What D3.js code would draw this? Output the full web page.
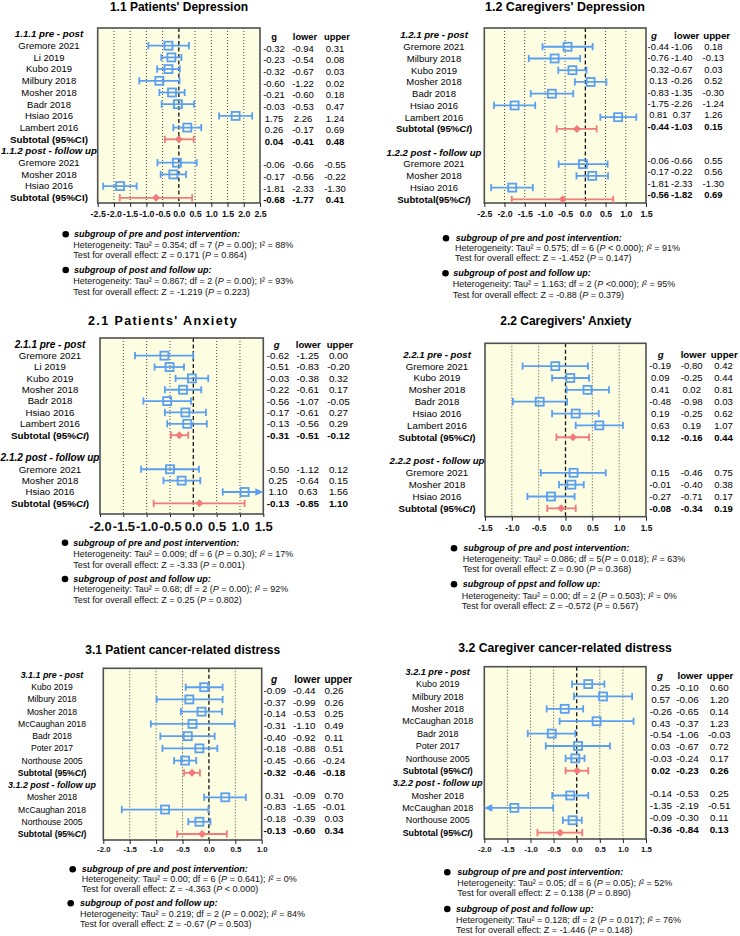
<!DOCTYPE html>
<html>
<head>
<meta charset="utf-8">
<script src="https://cdn.jsdelivr.net/npm/d3@7"></script>
<style>
body { margin: 0; background: #fff; }
svg { font-family: "Liberation Sans", Arial, Helvetica, sans-serif; }
</style>
</head>
<body>
<svg id="chart" width="740" height="936"></svg>
<script>
// ---------- data ----------
// plotted estimates are [g, lower, upper]; table text is what is printed next to the plot

// 1.1 Patients' Depression
const names11a = ["Gremore 2021", "Li 2019", "Kubo 2019", "Milbury 2018", "Mosher 2018", "Badr 2018", "Hsiao 2016", "Lambert 2016"];
const names11b = ["Gremore 2021", "Mosher 2018", "Hsiao 2016"];
const est11a = [[-0.32, -0.94, 0.31], [-0.23, -0.54, 0.08], [-0.32, -0.67, 0.03], [-0.60, -1.22, 0.02], [-0.21, -0.60, 0.18], [-0.03, -0.53, 0.47], [1.75, 1.24, 2.26], [0.26, -0.17, 0.69]];
const est11b = [[-0.06, -0.66, 0.55], [-0.17, -0.56, 0.22], [-1.81, -2.33, -1.30]];
const sub11 = [[0.00, -0.43, 0.46], [-0.70, -1.82, 0.41]];
const txt11a = [["-0.32", "-0.94", "0.31"], ["-0.23", "-0.54", "0.08"], ["-0.32", "-0.67", "0.03"], ["-0.60", "-1.22", "0.02"], ["-0.21", "-0.60", "0.18"], ["-0.03", "-0.53", "0.47"], ["1.75", "2.26", "1.24"], ["0.26", "-0.17", "0.69"]];
const txt11b = [["-0.06", "-0.66", "-0.55"], ["-0.17", "-0.56", "-0.22"], ["-1.81", "-2.33", "-1.30"]];
const txtSub11 = [["0.04", "-0.41", "0.48"], ["-0.68", "-1.77", "0.41"]];
const heads11 = ["1.1.1 pre - post", "1.1.2 post - follow up"];
const subLbl11 = ["Subtotal (95%CI)", "Subtotal (95%CI)"];
const cols11 = ["g", "lower", "upper"];
const ticks11 = [-2.5, -2, -1.5, -1, -0.5, 0, 0.5, 1, 1.5, 2, 2.5];
const notes11 = [
    ["subgroup of pre and post intervention:", "Heterogeneity: Tau² = 0.354; df = 7 (*P* = 0.00); I² = 88%", "Test for overall effect: Z = 0.171 (*P* = 0.864)"],
    ["subgroup of post and follow up:", "Heterogeneity: Tau² = 0.867; df = 2 (*P* = 0.00); I² = 93%", "Test for overall effect: Z = -1.219 (*P* = 0.223)"]
];

// 1.2 Caregivers' Depression
const names12a = ["Gremore 2021", "Milbury 2018", "Kubo 2019", "Mosher 2018", "Badr 2018", "Hsiao 2016", "Lambert 2016"];
const names12b = ["Gremore 2021", "Mosher 2018", "Hsiao 2016"];
const est12a = [[-0.44, -1.06, 0.18], [-0.76, -1.40, -0.13], [-0.32, -0.67, 0.03], [0.13, -0.26, 0.52], [-0.83, -1.35, -0.30], [-1.75, -2.26, -1.24], [0.81, 0.37, 1.26]];
const est12b = [[-0.06, -0.66, 0.55], [0.17, -0.22, 0.56], [-1.81, -2.33, -1.30]];
const sub12 = [[-0.21, -0.71, 0.28], [-0.56, -1.82, 0.69]];
const txt12a = [["-0.44", "-1.06", "0.18"], ["-0.76", "-1.40", "-0.13"], ["-0.32", "-0.67", "0.03"], ["0.13", "-0.26", "0.52"], ["-0.83", "-1.35", "-0.30"], ["-1.75", "-2.26", "-1.24"], ["0.81", "0.37", "1.26"]];
const txt12b = [["-0.06", "-0.66", "0.55"], ["-0.17", "-0.22", "0.56"], ["-1.81", "-2.33", "-1.30"]];
const txtSub12 = [["-0.44", "-1.03", "0.15"], ["-0.56", "-1.82", "0.69"]];
const heads12 = ["1.2.1 pre - post", "1.2.2 post - follow up"];
const subLbl12 = ["Subtotal (95%*CI*)", "Subtotal(95%*CI*)"];
const cols12 = ["*g*", "lower", "upper"];
const ticks12 = [-2.5, -2, -1.5, -1, -0.5, 0, 0.5, 1, 1.5];
const notes12 = [
    ["subgroup of pre and post intervention:", "Heterogeneity: Tau² = 0.575; df = 6 (*P* < 0.000); *I*² = 91%", "Test for overall effect: Z = -1.452 (*P* = 0.147)"],
    ["subgroup of post and follow up:", "Heterogeneity: Tau² = 1.163; df = 2 (*P* <0.000); *I*² = 95%", "Test for overall effect: Z = -0.88 (*P* = 0.379)"]
];

// 2.1 Patients' Anxiety
const names21a = ["Gremore 2021", "Li 2019", "Kubo 2019", "Mosher 2018", "Badr 2018", "Hsiao 2016", "Lambert 2016"];
const names21b = ["Gremore 2021", "Mosher 2018", "Hsiao 2016"];
const est21a = [[-0.62, -1.25, 0.00], [-0.51, -0.83, -0.20], [-0.03, -0.38, 0.32], [-0.22, -0.61, 0.17], [-0.56, -1.07, -0.05], [-0.17, -0.61, 0.27], [-0.13, -0.56, 0.29]];
const est21b = [[-0.50, -1.12, 0.12], [-0.25, -0.64, 0.15], [1.10, 0.63, 1.56]];
const sub21 = [[-0.30, -0.48, -0.11], [0.13, -0.85, 1.10]];
const txt21a = [["-0.62", "-1.25", "0.00"], ["-0.51", "-0.83", "-0.20"], ["-0.03", "-0.38", "0.32"], ["-0.22", "-0.61", "0.17"], ["-0.56", "-1.07", "-0.05"], ["-0.17", "-0.61", "0.27"], ["-0.13", "-0.56", "0.29"]];
const txt21b = [["-0.50", "-1.12", "0.12"], ["0.25", "-0.64", "0.15"], ["1.10", "0.63", "1.56"]];
const txtSub21 = [["-0.31", "-0.51", "-0.12"], ["-0.13", "-0.85", "1.10"]];
const heads21 = ["2.1.1 pre - post", "2.1.2 post - follow up"];
const subLbl21 = ["Subtotal (95%*CI*)", "Subtotal (95%*CI*)"];
const cols21 = ["*g*", "lower", "upper"];
const ticks21 = [-2, -1.5, -1, -0.5, 0, 0.5, 1, 1.5];
const notes21 = [
    ["subgroup of pre and post intervention:", "Heterogeneity: Tau² = 0.009; df = 6 (*P* = 0.30); *I*² = 17%", "Test for overall effect: Z = -3.33 (*P* = 0.001)"],
    ["subgroup of post and follow up:", "Heterogeneity: Tau² = 0.68; df = 2 (*P* = 0.00); *I*² = 92%", "Test for overall effect: Z = 0.25 (*P* = 0.802)"]
];

// 2.2 Caregivers' Anxiety
const names22a = ["Gremore 2021", "Kubo 2019", "Mosher 2018", "Badr 2018", "Hsiao 2016", "Lambert 2016"];
const names22b = ["Gremore 2021", "Mosher 2018", "Hsiao 2016"];
const est22a = [[-0.19, -0.80, 0.42], [0.09, -0.25, 0.44], [0.41, 0.02, 0.81], [-0.48, -0.98, 0.03], [0.19, -0.25, 0.62], [0.63, 0.19, 1.07]];
const est22b = [[0.15, -0.46, 0.75], [0.11, -0.12, 0.34], [-0.27, -0.71, 0.17]];
const sub22 = [[0.14, -0.17, 0.44], [-0.08, -0.34, 0.19]];
const txt22a = [["-0.19", "-0.80", "0.42"], ["0.09", "-0.25", "0.44"], ["0.41", "0.02", "0.81"], ["-0.48", "-0.98", "0.03"], ["0.19", "-0.25", "0.62"], ["0.63", "0.19", "1.07"]];
const txt22b = [["0.15", "-0.46", "0.75"], ["-0.01", "-0.40", "0.38"], ["-0.27", "-0.71", "0.17"]];
const txtSub22 = [["0.12", "-0.16", "0.44"], ["-0.08", "-0.34", "0.19"]];
const heads22 = ["2.2.1 pre - post", "2.2.2 post - follow up"];
const subLbl22 = ["Subtotal (95%*CI*)", "Subtotal (95%*CI*)"];
const cols22 = ["*g*", "lower", "upper"];
const ticks22 = [-1.5, -1, -0.5, 0, 0.5, 1, 1.5];
const notes22 = [
    ["subgroup of pre and post intervention:", "Heterogeneity: Tau² = 0.086; df = 5(*P* = 0.018); *I*² = 63%", "Test for overall effect: Z = 0.90 (*P* = 0.368)"],
    ["subgroup of ppst and follow up:", "Heterogeneity: Tau² = 0.00; df = 2 (*P* = 0.503); *I*² = 0%", "Test for overall effect: Z = -0.572 (*P* = 0.567)"]
];

// 3.1 Patient cancer-related distress
const names31a = ["Kubo 2019", "Milbury 2018", "Mosher 2018", "McCaughan 2018", "Badr 2018", "Poter 2017", "Northouse 2005"];
const names31b = ["Mosher 2018", "McCaughan 2018", "Northouse 2005"];
const est31a = [[-0.09, -0.44, 0.26], [-0.37, -0.99, 0.26], [-0.14, -0.53, 0.25], [-0.31, -1.10, 0.49], [-0.40, -0.92, 0.11], [-0.18, -0.88, 0.16], [-0.45, -0.66, -0.24]];
const est31b = [[0.31, -0.09, 0.70], [-0.83, -1.65, -0.01], [-0.18, -0.39, 0.03]];
const sub31 = [[-0.32, -0.47, -0.17], [-0.13, -0.60, 0.34]];
const txt31a = [["-0.09", "-0.44", "0.26"], ["-0.37", "-0.99", "0.26"], ["-0.14", "-0.53", "0.25"], ["-0.31", "-1.10", "0.49"], ["-0.40", "-0.92", "0.11"], ["-0.18", "-0.88", "0.51"], ["-0.45", "-0.66", "-0.24"]];
const txt31b = [["0.31", "-0.09", "0.70"], ["-0.83", "-1.65", "-0.01"], ["-0.18", "-0.39", "0.03"]];
const txtSub31 = [["-0.32", "-0.46", "-0.18"], ["-0.13", "-0.60", "0.34"]];
const heads31 = ["3.1.1 pre - post", "3.1.2 post - follow up"];
const subLbl31 = ["Subtotal (95%*CI*)", "Subtotal (95%*CI*)"];
const cols31 = ["*g*", "lower", "upper"];
const ticks31 = [-2, -1.5, -1, -0.5, 0, 0.5, 1];
const notes31 = [
    ["subgroup of pre and post intervention:", "Heterogeneity: Tau² = 0.00; df = 6 (*P* = 0.641); *I*² = 0%", "Test for overall effect: Z = -4.363 (*P* < 0.000)"],
    ["subgroup of post and follow up:", "Heterogeneity: Tau² = 0.219; df = 2 (*P* = 0.002); *I*² = 84%", "Test for overall effect: Z = -0.67 (*P* = 0.503)"]
];

// 3.2 Caregiver cancer-related distress
const names32a = ["Kubo 2019", "Milbury 2018", "Mosher 2018", "McCaughan 2018", "Badr 2018", "Poter 2017", "Northouse 2005"];
const names32b = ["Mosher 2018", "McCaughan 2018", "Northouse 2005"];
const est32a = [[0.25, -0.10, 0.60], [0.57, -0.06, 1.20], [-0.26, -0.65, 0.14], [0.43, -0.37, 1.23], [-0.54, -1.06, -0.03], [0.03, -0.67, 0.72], [-0.03, -0.24, 0.17]];
const est32b = [[-0.14, -0.53, 0.25], [-1.35, -2.19, -0.51], [-0.09, -0.30, 0.11]];
const sub32 = [[0.01, -0.24, 0.25], [-0.36, -0.85, 0.12]];
const txt32a = [["0.25", "-0.10", "0.60"], ["0.57", "-0.06", "1.20"], ["-0.26", "-0.65", "0.14"], ["0.43", "-0.37", "1.23"], ["-0.54", "-1.06", "-0.03"], ["0.03", "-0.67", "0.72"], ["-0.03", "-0.24", "0.17"]];
const txt32b = [["-0.14", "-0.53", "0.25"], ["-1.35", "-2.19", "-0.51"], ["-0.09", "-0.30", "0.11"]];
const txtSub32 = [["0.02", "-0.23", "0.26"], ["-0.36", "-0.84", "0.13"]];
const heads32 = ["3.2.1 pre - post", "3.2.2 post - follow up"];
const subLbl32 = ["Subtotal (95%*CI*)", "Subtotal (95%*CI*)"];
const cols32 = ["*g*", "lower", "upper"];
const ticks32 = [-2, -1.5, -1, -0.5, 0, 0.5, 1, 1.5];
const notes32 = [
    ["subgroup of pre and post intervention:", "Heterogeneity: Tau² = 0.05; df = 6 (*P* = 0.05); *I*² = 52%", "Test for overall effect: Z = 0.138 (*P* = 0.890)"],
    ["subgroup of post and follow up:", "Heterogeneity: Tau² = 0.128; df = 2 (*P* = 0.017); *I*² = 76%", "Test for overall effect: Z = -1.446 (*P* = 0.148)"]
];

// ---------- layout ----------
var blue = "#5a9ff0",
    red = "#f27a7a",
    plotFill = "#fdfde2",
    frame = "#505050";

var panels = [
    {title: "1.1 Patients' Depression", titleX: 179, titleY: 7, titleSize: 12, titleSpacing: 0,
     box: [97.7, 260, 28, 203], domain: [-2.5, 2.5], ticks: ticks11, tickFont: 8.8, tickLabelY: 214, tickLen: 4,
     rowTop: 34, rowStep: 11.7, gap: false, labelX: 49, valTop: 36.6, valStep: 11.67,
     colHeadX: [274, 305, 337], colValX: [274, 303, 335],
     fs: {label: 9.5, head: 9.7, sub: 9.8, val: 9.5, col: 9.3},
     names: [names11a, names11b], est: [est11a, est11b], sub: sub11, txt: [txt11a, txt11b], txtSub: txtSub11,
     heads: heads11, subLbl: subLbl11, cols: cols11, notes: notes11,
     notePos: [{bx: 65.7, hx: 74, lx: 73.3, y: [234.3, 245, 255]}, {bx: 65.7, hx: 74, lx: 73.3, y: [270, 281, 292]}]},
    {title: "1.2 Caregivers' Depression", titleX: 565, titleY: 7, titleSize: 12.5, titleSpacing: 0,
     box: [484.3, 646, 28, 203], domain: [-2.5, 1.5], ticks: ticks12, tickFont: 8.8, tickLabelY: 214, tickLen: 4,
     rowTop: 35, rowStep: 11.74, gap: true, labelX: 434, valTop: 35.3, valStep: 11.4,
     colHeadX: [654, 686.7, 716.7], colValX: [658.3, 681.8, 713.3],
     fs: {label: 9.5, head: 9.6, sub: 9.6, val: 9.4, col: 9.7},
     names: [names12a, names12b], est: [est12a, est12b], sub: sub12, txt: [txt12a, txt12b], txtSub: txtSub12,
     heads: heads12, subLbl: subLbl12, cols: cols12, notes: notes12,
     notePos: [{bx: 446, hx: 455.7, lx: 455, y: [238.3, 248.3, 258.3]}, {bx: 445.5, hx: 453.3, lx: 452.7, y: [273.3, 284, 295]}]},
    {title: "2.1 Patients' Anxiety", titleX: 163, titleY: 321, titleSize: 12.5, titleSpacing: 1.4,
     box: [100, 263.3, 338, 514], domain: [-2, 1.5], ticks: ticks21, tickFont: 13, tickLabelY: 526, tickLen: 3,
     rowTop: 344.3, rowStep: 11.36, gap: true, labelX: 50, valTop: 344.3, valStep: 11.36,
     colHeadX: [276.7, 308.3, 340], colValX: [278, 307.8, 338.5],
     fs: {label: 9.7, head: 10, sub: 9.85, val: 9.9, col: 9.6},
     names: [names21a, names21b], est: [est21a, est21b], sub: sub21, txt: [txt21a, txt21b], txtSub: txtSub21,
     heads: heads21, subLbl: subLbl21, cols: cols21, notes: notes21,
     notePos: [{bx: 65, hx: 73.3, lx: 73.3, y: [542.7, 554.3, 565]}, {bx: 65, hx: 73.3, lx: 73.3, y: [579, 589.3, 600]}]},
    {title: "2.2  Caregivers' Anxiety", titleX: 565.8, titleY: 321, titleSize: 12, titleSpacing: 0,
     box: [485, 646, 343.3, 516.7], domain: [-1.5, 1.5], ticks: ticks22, tickFont: 8.3, tickLabelY: 528.3, tickLen: 4,
     rowTop: 354.3, rowStep: 11.85, gap: true, labelX: 437, valTop: 354.3, valStep: 11.85,
     colHeadX: [660.7, 693.3, 724.3], colValX: [660.2, 691.7, 723.5],
     fs: {label: 9.7, head: 9.6, sub: 9.7, val: 9.5, col: 9.7},
     names: [names22a, names22b], est: [est22a, est22b], sub: sub22, txt: [txt22a, txt22b], txtSub: txtSub22,
     heads: heads22, subLbl: subLbl22, cols: cols22, notes: notes22,
     notePos: [{bx: 454, hx: 463.3, lx: 462.7, y: [548.3, 559.3, 569.3]}, {bx: 454, hx: 462.7, lx: 461.7, y: [584.3, 595.7, 606]}]},
    {title: "3.1 Patient cancer-related distress", titleX: 182.7, titleY: 650, titleSize: 12, titleSpacing: 0,
     box: [103.3, 261.7, 668.3, 840], domain: [-2, 1], ticks: ticks31, tickFont: 7.8, tickLabelY: 849.3, tickLen: 4,
     rowTop: 675, rowStep: 12.23, gap: false, labelX: 52, valTop: 679.1, valStep: 11.63,
     colHeadX: [274, 307.3, 338.3], colValX: [274.7, 304.2, 334],
     fs: {label: 8.6, head: 8.9, sub: 8.65, val: 9.9, col: 10},
     names: [names31a, names31b], est: [est31a, est31b], sub: sub31, txt: [txt31a, txt31b], txtSub: txtSub31,
     heads: heads31, subLbl: subLbl31, cols: cols31, notes: notes31,
     notePos: [{bx: 72.7, hx: 81.7, lx: 81.7, y: [869.3, 879.3, 889.3]}, {bx: 70.7, hx: 80, lx: 80, y: [903.3, 914, 924.3]}]},
    {title: "3.2 Caregiver cancer-related distress", titleX: 565, titleY: 648, titleSize: 12.2, titleSpacing: 0,
     box: [484.3, 646, 666.7, 839], domain: [-2, 1.5], ticks: ticks32, tickFont: 7.8, tickLabelY: 849.3, tickLen: 4,
     rowTop: 671.7, rowStep: 12.38, gap: false, labelX: 437.7, valTop: 675.9, valStep: 11.8,
     colHeadX: [660, 690, 720], colValX: [660.8, 687.5, 719.2],
     fs: {label: 9, head: 9.1, sub: 8.8, val: 9.8, col: 9.6},
     names: [names32a, names32b], est: [est32a, est32b], sub: sub32, txt: [txt32a, txt32b], txtSub: txtSub32,
     heads: heads32, subLbl: subLbl32, cols: cols32, notes: notes32,
     notePos: [{bx: 447.3, hx: 457.3, lx: 457.3, y: [872.3, 882.7, 892.7]}, {bx: 447.3, hx: 456, lx: 456, y: [909, 920, 930]}]}
];

// text with *italic* parts
function richText(sel, str) {
    str.split("*").forEach(function (part, i) {
        if (!part) return;
        sel.append("tspan")
            .style("font-style", i % 2 ? "italic" : null)
            .text(part);
    });
    return sel;
}

function drawPanel(svg, p) {
    var g = svg.append("g");

    var x = d3.scaleLinear()
        .domain(p.domain)
        .range([p.box[0], p.box[1]]);

    // title
    g.append("text")
        .attr("x", p.titleX)
        .attr("y", p.titleY)
        .attr("dy", "0.35em")
        .attr("text-anchor", "middle")
        .style("font-weight", "bold")
        .style("font-size", p.titleSize + "px")
        .style("letter-spacing", p.titleSpacing + "px")
        .text(p.title);

    // plot box
    g.append("rect")
        .attr("x", p.box[0])
        .attr("y", p.box[2])
        .attr("width", p.box[1] - p.box[0])
        .attr("height", p.box[3] - p.box[2])
        .style("fill", plotFill);

    g.selectAll(".grid")
        .data(p.ticks.filter(function (t) { return t !== 0 && t > p.domain[0] && t < p.domain[1]; }))
        .enter().append("line")
        .attr("class", "grid")
        .attr("x1", function (d) { return x(d); })
        .attr("x2", function (d) { return x(d); })
        .attr("y1", p.box[2])
        .attr("y2", p.box[3])
        .style("stroke", "#333")
        .style("stroke-width", 0.9)
        .style("stroke-dasharray", "1,2");

    g.append("line")
        .attr("x1", x(0))
        .attr("x2", x(0))
        .attr("y1", p.box[2])
        .attr("y2", p.box[3])
        .style("stroke", "#111")
        .style("stroke-width", 1.3)
        .style("stroke-dasharray", "4,2.5");

    g.append("rect")
        .attr("x", p.box[0])
        .attr("y", p.box[2])
        .attr("width", p.box[1] - p.box[0])
        .attr("height", p.box[3] - p.box[2])
        .style("fill", "none")
        .style("stroke", frame)
        .style("stroke-width", 1.6);

    // x axis
    var axis = g.append("g")
        .attr("transform", "translate(0," + p.box[3] + ")")
        .call(d3.axisBottom(x)
            .tickValues(p.ticks)
            .tickSize(p.tickLen)
            .tickFormat(function (d) { return d.toFixed(1); }));
    axis.select(".domain").remove();
    axis.selectAll(".tick line").style("stroke", "#222").style("stroke-width", 1);
    axis.selectAll(".tick text")
        .attr("y", p.tickLabelY - p.box[3])
        .attr("dy", "0.35em")
        .style("font-family", "'Liberation Sans', Arial, sans-serif")
        .style("font-weight", "bold")
        .style("font-size", p.tickFont + "px")
        .style("fill", "#111");

    // rows
    var rows = [];
    [0, 1].forEach(function (k) {
        if (k === 1 && p.gap) rows.push({type: "blank"});
        rows.push({type: "head", label: p.heads[k]});
        p.names[k].forEach(function (n, i) {
            rows.push({type: "study", label: n, est: p.est[k][i], txt: p.txt[k][i]});
        });
        rows.push({type: "sub", label: p.subLbl[k], est: p.sub[k], txt: p.txtSub[k]});
    });
    rows.forEach(function (r, i) {
        r.y = p.rowTop + i * p.rowStep;
        r.vy = p.valTop + i * p.valStep;
    });

    // column headers
    g.selectAll(".colhead")
        .data(p.cols)
        .enter().append("text")
        .attr("class", "colhead")
        .attr("x", function (d, i) { return p.colHeadX[i]; })
        .attr("y", p.valTop)
        .attr("dy", "0.35em")
        .attr("text-anchor", "middle")
        .style("font-weight", "bold")
        .style("font-size", p.fs.col + "px")
        .each(function (d) { richText(d3.select(this), d); });

    // row labels
    var labelled = rows.filter(function (r) { return r.type !== "blank"; });
    g.selectAll(".rowlabel")
        .data(labelled)
        .enter().append("text")
        .attr("class", "rowlabel")
        .attr("x", p.labelX)
        .attr("y", function (d) { return d.y; })
        .attr("dy", "0.35em")
        .attr("text-anchor", "middle")
        .style("font-weight", function (d) { return d.type === "study" ? null : "bold"; })
        .style("font-style", function (d) { return d.type === "head" ? "italic" : null; })
        .style("font-size", function (d) {
            return (d.type === "study" ? p.fs.label : d.type === "head" ? p.fs.head : p.fs.sub) + "px";
        })
        .each(function (d) { richText(d3.select(this), d.label); });

    // table values
    var valued = rows.filter(function (r) { return r.txt; });
    valued.forEach(function (r) {
        g.selectAll(null)
            .data(r.txt)
            .enter().append("text")
            .attr("x", function (d, i) { return p.colValX[i]; })
            .attr("y", r.vy)
            .attr("dy", "0.35em")
            .attr("text-anchor", "middle")
            .style("font-weight", r.type === "sub" ? "bold" : null)
            .style("font-size", p.fs.val + "px")
            .text(function (d) { return d; });
    });

    // confidence intervals
    var marks = g.selectAll(".mark")
        .data(valued)
        .enter().append("g")
        .attr("class", "mark")
        .attr("transform", function (d) { return "translate(0," + d.y + ")"; });

    var lo = function (d) { return Math.max(d.est[1], p.domain[0]); },
        hi = function (d) { return Math.min(d.est[2], p.domain[1]); },
        col = function (d) { return d.type === "sub" ? red : blue; };

    marks.append("line")
        .attr("x1", function (d) { return x(lo(d)); })
        .attr("x2", function (d) { return x(hi(d)); })
        .style("stroke", col)
        .style("stroke-width", 1.8);

    // end caps, or arrows where the interval runs off the axis
    marks.each(function (d) {
        var m = d3.select(this);
        [[d.est[1], p.domain[0], -1], [d.est[2], p.domain[1], 1]].forEach(function (e) {
            var off = e[2] < 0 ? e[0] < e[1] : e[0] > e[1];
            if (off) {
                var tip = x(e[1]);
                m.append("path")
                    .attr("d", "M" + tip + ",0L" + (tip - e[2] * 8) + ",-3.8L" + (tip - e[2] * 8) + ",3.8Z")
                    .style("fill", col(d));
            } else {
                m.append("line")
                    .attr("x1", x(e[0]))
                    .attr("x2", x(e[0]))
                    .attr("y1", -3.6)
                    .attr("y2", 3.6)
                    .style("stroke", col(d))
                    .style("stroke-width", 1.8);
            }
        });
    });

    marks.filter(function (d) { return d.type === "study"; })
        .append("rect")
        .attr("x", function (d) { return x(d.est[0]) - 4; })
        .attr("y", -4)
        .attr("width", 8)
        .attr("height", 8)
        .style("fill", "none")
        .style("stroke", blue)
        .style("stroke-width", 1.8);

    marks.filter(function (d) { return d.type === "sub"; })
        .append("path")
        .attr("d", function (d) {
            var cx = x(d.est[0]);
            return "M" + (cx - 4) + ",0L" + cx + ",-4L" + (cx + 4) + ",0L" + cx + ",4Z";
        })
        .style("fill", red);

    // footnotes
    p.notes.forEach(function (note, k) {
        var pos = p.notePos[k];
        g.append("circle")
            .attr("cx", pos.bx)
            .attr("cy", pos.y[0])
            .attr("r", 3.3)
            .style("fill", "#000");
        g.append("text")
            .attr("x", pos.hx)
            .attr("y", pos.y[0])
            .attr("dy", "0.35em")
            .style("font-size", "9px")
            .style("font-weight", "bold")
            .style("font-style", "italic")
            .text(note[0]);
        [1, 2].forEach(function (j) {
            richText(g.append("text")
                .attr("x", pos.lx)
                .attr("y", pos.y[j])
                .attr("dy", "0.35em")
                .style("font-size", "9px")
                .style("fill", "#111"), note[j]);
        });
    });
}

var svg = d3.select("#chart");
svg.append("rect").attr("width", 740).attr("height", 936).style("fill", "#fff");
panels.forEach(function (p) { drawPanel(svg, p); });
</script>
</body>
</html>
